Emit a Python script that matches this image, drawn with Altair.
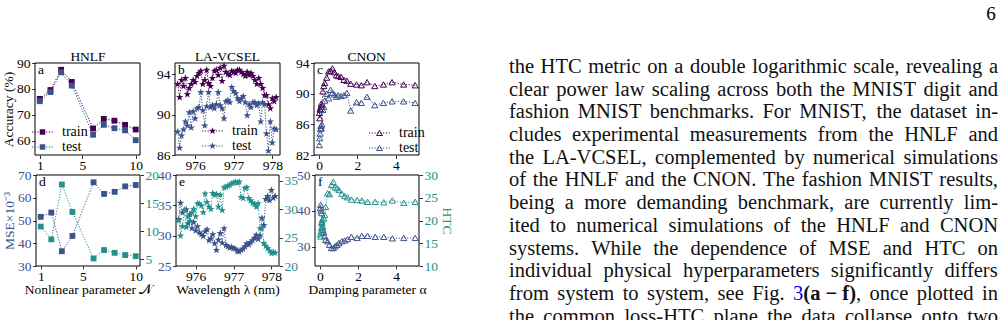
import altair as alt
import pandas as pd

W, H = 1004, 320
PURPLE = "#440154"
BLUE = "#3b528b"
TEAL = "#21918c"
FONT = "Liberation Serif"
LBL = 13.5
STAR = ("M0,-1L0.235,-0.324L0.951,-0.309L0.38,0.124L0.588,0.809L0,0.4"
        "L-0.588,0.809L-0.38,0.124L-0.951,-0.309L-0.235,-0.324Z")

# ---------------- data ----------------
nl_param = [1, 2, 3, 4, 6, 7, 8, 9, 10]
hnlf_train = [76.2, 79.6, 87.4, 82.7, 64.8, 68.5, 67.8, 66.2, 64.4]
hnlf_test = [75.3, 78.8, 86.4, 81.3, 62.4, 66.2, 64.9, 64.1, 60.3]
hnlf_mse = [51.6, 53.5, 36.5, 43.2, 66.8, 61.7, 62.6, 65.0, 65.6]
hnlf_htc = [10.8, 8.5, 18.3, 13.4, 5.1, 6.6, 6.1, 5.7, 5.5]

wavelength = [975.55, 975.60, 975.65, 975.70, 975.75, 975.80, 975.85, 975.90, 975.95, 976.00,
              976.05, 976.10, 976.15, 976.20, 976.25, 976.30, 976.35, 976.40, 976.45, 976.50,
              976.55, 976.60, 976.65, 976.70, 976.75, 976.80, 976.85, 976.90, 976.95, 977.00,
              977.05, 977.10, 977.15, 977.20, 977.25, 977.30, 977.35, 977.40, 977.45, 977.50,
              977.55, 977.60, 977.65, 977.70, 977.75, 977.80, 977.85, 977.90, 977.95, 978.00,
              978.05, 978.10]
vcsel_train = [93.0, 91.7, 93.4, 92.8, 93.6, 92.0, 92.6, 93.0, 93.4, 93.2,
               93.8, 94.1, 94.3, 93.0, 93.4, 94.4, 93.1, 92.8, 93.6, 94.3,
               94.4, 93.9, 94.6, 93.3, 94.8, 94.2, 94.0, 93.9, 94.3, 94.2,
               94.1, 94.4, 94.4, 94.2, 94.0, 93.8, 94.2, 93.9, 94.1, 93.8,
               93.4, 93.0, 93.6, 93.0, 92.6, 91.9, 91.9, 91.0, 90.6, 91.6,
               91.3, 91.7]
vcsel_test = [88.3, 86.7, 87.9, 88.5, 89.3, 88.9, 90.2, 88.7, 90.3, 89.6,
              90.6, 90.7, 92.2, 90.4, 88.9, 90.8, 92.2, 90.7, 90.9, 90.6,
              91.0, 92.2, 90.9, 90.6, 89.6, 91.3, 91.4, 91.2, 92.7, 92.3,
              92.1, 91.6, 91.3, 91.6, 91.8, 91.2, 89.9, 91.0, 90.7, 91.2,
              91.2, 90.9, 91.1, 89.3, 91.2, 91.0, 88.1, 86.4, 89.3, 87.2,
              88.6, 88.5]
vcsel_mse = [32.7, 35.4, 33.8, 34.2, 34.3, 32.0, 33.5, 31.2, 32.2, 30.8,
             31.5, 30.5, 30.2, 29.9, 30.7, 31.0, 29.2, 29.5, 30.2, 28.7,
             27.6, 29.3, 30.4, 28.8, 31.2, 28.4, 28.2, 28.0, 28.1, 27.9,
             27.8, 27.4, 27.4, 27.6, 27.8, 28.2, 28.7, 28.5, 28.9, 29.2,
             29.6, 30.1, 29.4, 30.0, 32.9, 31.7, 36.0, 36.5, 35.8, 37.5,
             36.2, 36.5]
vcsel_htc = [28.0, 25.3, 27.0, 29.8, 26.8, 28.7, 27.9, 29.4, 30.0, 28.7,
             31.0, 30.9, 30.6, 29.4, 32.7, 31.2, 30.4, 30.0, 32.8, 32.5,
             32.6, 30.4, 32.5, 29.8, 33.8, 33.9, 34.1, 34.2, 34.5, 34.6,
             34.8, 34.6, 34.8, 32.1, 31.9, 33.7, 33.8, 31.9, 31.5, 31.1,
             30.9, 30.4, 31.0, 26.6, 26.6, 24.0, 23.5, 23.1, 22.7, 22.2,
             22.4, 22.3]

damping = [0.02, 0.04, 0.06, 0.08, 0.10, 0.12, 0.15, 0.20, 0.25, 0.30,
           0.40, 0.50, 0.60, 0.70, 0.80, 0.90, 1.00, 1.15, 1.30, 1.45,
           1.65, 1.95, 2.20, 2.50, 2.90, 3.35, 3.80, 4.40, 5.00]
cnon_train = [87.5, 86.8, 88.0, 87.9, 88.3, 88.7, 88.5, 90.3, 91.0, 91.4,
              92.1, 92.9, 93.0, 93.3, 92.8, 92.4, 92.3, 92.2, 91.8, 91.7,
              91.3, 91.2, 91.1, 91.5, 91.0, 91.2, 91.5, 91.2, 91.1]
cnon_test = [83.3, 84.2, 84.8, 85.4, 85.8, 85.5, 86.0, 87.9, 88.3, 89.1,
             90.0, 89.4, 90.5, 90.1, 89.9, 89.6, 89.8, 89.7, 89.8, 90.1,
             87.8, 88.9, 88.8, 89.6, 88.5, 88.8, 89.0, 89.0, 88.8]
cnon_mse = [40.8, 41.7, 40.1, 39.4, 36.6, 35.7, 34.8, 34.1, 33.0, 32.0,
            31.6, 30.6, 29.7, 29.7, 30.2, 30.6, 31.1, 31.6, 31.8, 32.2,
            32.8, 32.5, 33.1, 33.1, 32.8, 32.8, 32.4, 32.5, 32.5]
cnon_htc = [17.0, 16.5, 17.6, 18.3, 19.7, 20.2, 18.6, 20.5, 21.2, 23.0,
            26.0, 25.8, 27.8, 28.5, 27.3, 27.1, 26.7, 25.9, 25.4, 25.1,
            24.6, 24.5, 24.4, 24.1, 24.1, 24.0, 24.4, 23.9, 24.1]

series_names = ["train", "test"]
panel_titles = ["HNLF", "LA-VCSEL", "CNON"]
panel_letters = ["a", "b", "c", "d", "e", "f"]
x_titles = ["Nonlinear parameter 𝒩", "Wavelength λ (nm)", "Damping parameter α"]
acc_title = "Accuracy (%)"
mse_title = "MSE×10⁻³"
htc_title = "HTC"

text_lines = [
    "the HTC metric on a double logarithmic scale, revealing a",
    "clear power law scaling across both the MNIST digit and",
    "fashion MNIST benchmarks. For MNIST, the dataset in-",
    "cludes experimental measurements from the HNLF and",
    "the LA-VCSEL, complemented by numerical simulations",
    "of the HNLF and the CNON. The fashion MNIST results,",
    "being a more demanding benchmark, are currently lim-",
    "ited to numerical simulations of the HNLF and CNON",
    "systems. While the dependence of MSE and HTC on",
    "individual physical hyperparameters significantly differs",
    "from system to system, see Fig. {3}[(a − f)], once plotted in",
    "the common loss-HTC plane the data collapse onto two",
]
page_number = "6"

# ---------------- text layout (justified column, Times metrics) ----------------
TIMES = {" ": 250, ",": 250, ".": 250, "-": 333, "(": 333, ")": 333, "−": 564, ":": 278}
TIMES.update({c: 500 for c in "0123456789"})
TIMES.update(dict(zip("abcdefghijklmnopqrstuvwxyz",
                      [444, 500, 444, 500, 444, 333, 500, 500, 278, 278, 500, 278, 778,
                       500, 500, 500, 500, 333, 389, 278, 500, 500, 722, 500, 500, 444])))
TIMES.update(dict(zip("ABCDEFGHIJKLMNOPQRSTUVWXYZ",
                      [722, 667, 667, 722, 611, 556, 722, 722, 333, 389, 722, 611, 889,
                       722, 722, 556, 722, 667, 556, 611, 722, 722, 944, 722, 722, 611])))
BOLD = {"(": 333, ")": 333, "a": 500, "f": 333, " ": 250, "−": 570}
COL_X0, COL_W = 509, 489


def segments(word):
    segs, cur, style = [], "", "n"
    for ch in word:
        if ch in "{[":
            if cur:
                segs.append((cur, style))
            cur, style = "", ("blue" if ch == "{" else "bold")
        elif ch in "}]":
            segs.append((cur, style))
            cur, style = "", "n"
        else:
            cur += ch
    if cur:
        segs.append((cur, style))
    return segs


def seg_width(txt, style):
    tab = BOLD if style == "bold" else TIMES
    return sum(tab.get(c, TIMES.get(c, 500)) for c in txt)


def tokenize(line):
    words, cur, depth = [], "", 0
    for ch in line:
        if ch == "[":
            depth += 1
        if ch == "]":
            depth -= 1
        if ch == " " and depth == 0:
            words.append(cur)
            cur = ""
        else:
            cur += ch
    words.append(cur)
    return words


line_words = [[segments(w) for w in tokenize(ln)] for ln in text_lines]
max_em = max(sum(seg_width(t, s) for w in lw for t, s in w) + 250 * (len(lw) - 1)
             for lw in line_words) / 1000.0
FS = min(20.5, (COL_W - 6) / max_em)

rows = []
for r, lw in enumerate(line_words):
    widths = [sum(seg_width(t, s) for t, s in w) * FS / 1000.0 for w in lw]
    gap = (COL_W - sum(widths)) / (len(lw) - 1)
    x = COL_X0
    for w, wd in zip(lw, widths):
        xx = x
        for t, s in w:
            rows.append({"t": t, "style": s, "x": xx, "row": r})
            xx += seg_width(t, s) * FS / 1000.0
        x += wd + gap
text_df = pd.DataFrame(rows)


# ---------------- helpers ----------------
def axis(orient, offset, values, title=None, color="black", fmt=None, pad=2, lpad=1.5, tick=3.5):
    kw = dict(orient=orient, offset=offset, values=values, grid=False, domain=False,
              ticks=True, tickSize=tick, tickColor="black", tickWidth=0.8,
              labelFont=FONT, labelFontSize=LBL, labelColor=color, labelPadding=lpad,
              labelFlush=False, labelOverlap=False,
              titleFont=FONT, titleFontSize=13.5, titleFontWeight="normal",
              titleColor=color, titlePadding=pad, title=title)
    if fmt:
        kw["format"] = fmt
    return alt.Axis(**kw)


def lin(dom, rng):
    return alt.Scale(domain=dom, range=rng, nice=False, zero=False)


def frame(sx, sy, ax, ay, xdom, ydom):
    fdf = pd.DataFrame({"x0": [xdom[0]], "x1": [xdom[1]], "y0": [ydom[0]], "y1": [ydom[1]]})
    return alt.Chart(fdf).mark_rect(fillOpacity=0, stroke="black", strokeWidth=1).encode(
        x=alt.X("x0:Q", scale=sx, axis=ax), x2="x1:Q",
        y=alt.Y("y0:Q", scale=sy, axis=ay), y2="y1:Q")


def acc_panel(xv, train, test, xdom, xr, ydom, yr, xticks, yticks, shape, filled,
              size, ytitle=None, xfmt=None):
    n = len(xv)
    df = pd.DataFrame({"x": list(xv) * 2, "v": list(train) + list(test),
                       "s": [series_names[0]] * n + [series_names[1]] * n})
    sx, sy = lin(xdom, xr), lin(ydom, yr)
    ax = axis("bottom", yr[0] - H, xticks, None, fmt=xfmt, lpad=0)
    ay = axis("left", -xr[0], yticks, ytitle, pad=1)
    col = alt.Color("s:N", scale=alt.Scale(domain=series_names, range=[PURPLE, BLUE]), legend=None)
    base = alt.Chart(df).encode(x=alt.X("x:Q", scale=sx, axis=ax),
                                y=alt.Y("v:Q", scale=sy, axis=ay), color=col, detail="s:N")
    line = base.mark_line(strokeDash=[1.2, 1.6], strokeWidth=1)
    pts = base.mark_point(shape=shape, filled=filled, size=size, opacity=1, strokeWidth=1)
    return alt.layer(line, pts, frame(sx, sy, ax, ay, xdom, ydom))


def dual_panel(xv, mse, htc, xdom, xr, ldom, rdom, yr, xticks, lticks, rticks, shape,
               filled, size, xtitle, ltitle=None, rtitle=None, xfmt=None):
    df = pd.DataFrame({"x": xv, "mse": mse, "htc": htc})
    sx = lin(xdom, xr)
    syl, syr = lin(ldom, yr), lin(rdom, yr)
    ax = axis("bottom", yr[0] - H, xticks, xtitle, fmt=xfmt, pad=0, lpad=0, tick=3)
    ayl = axis("left", -xr[0], lticks, ltitle, color=BLUE, pad=1)
    ayr = axis("right", xr[1] - W, rticks, rtitle, color=TEAL, pad=2)
    X = alt.X("x:Q", scale=sx, axis=ax)
    left = alt.Chart(df).encode(x=X, y=alt.Y("mse:Q", scale=syl, axis=ayl))
    right = alt.Chart(df).encode(x=X, y=alt.Y("htc:Q", scale=syr, axis=ayr))
    lpart = alt.layer(
        left.mark_line(color=BLUE, strokeDash=[1.2, 1.6], strokeWidth=1),
        left.mark_point(color=BLUE, shape=shape, filled=filled, size=size, opacity=1, strokeWidth=1),
        frame(sx, syl, ax, ayl, xdom, ldom))
    rpart = alt.layer(
        right.mark_line(color=TEAL, strokeDash=[1.2, 1.6], strokeWidth=1),
        right.mark_point(color=TEAL, shape=shape, filled=filled, size=size, opacity=1, strokeWidth=1))
    return alt.layer(lpart, rpart).resolve_scale(y="independent")


def label(text, x, y, size=13.5, align="center", color="black", weight="normal"):
    return alt.Chart(pd.DataFrame({"k": [0]})).mark_text(
        font=FONT, fontSize=size, align=align, baseline="middle", color=color,
        fontWeight=weight).encode(
        x=alt.value(x), y=alt.value(y), text=alt.value(text))


def legend(x0, ycen, shape, filled, size):
    ldf = pd.DataFrame({"s": series_names, "row": [0, 1]})
    y = alt.Y("row:Q", scale=lin([0, 1], [ycen, ycen + 15]), axis=None)
    col = alt.Color("s:N", scale=alt.Scale(domain=series_names, range=[PURPLE, BLUE]), legend=None)
    rule = alt.Chart(ldf).mark_rule(strokeDash=[1.2, 1.6], strokeWidth=1).encode(
        x=alt.value(x0), x2=alt.value(x0 + 21), y=y, color=col)
    pt = alt.Chart(ldf).mark_point(shape=shape, filled=filled, size=size, opacity=1, strokeWidth=1).encode(
        x=alt.value(x0 + 10.5), y=y, color=col)
    tx = alt.Chart(ldf).mark_text(font=FONT, fontSize=14, align="left", baseline="middle").encode(
        x=alt.value(x0 + 30), y=y, text="s:N")
    return alt.layer(rule, pt, tx)


# ---------------- panels ----------------
pa = acc_panel(nl_param, hnlf_train, hnlf_test, [0.55, 10.4], [35, 140], [54.6, 90], [155, 63],
               [1, 5, 10], [60, 70, 80, 90], "square", True, 34, ytitle=acc_title)
pb = acc_panel(wavelength, vcsel_train, vcsel_test, [975.48, 978.2], [175, 280], [86, 95.1], [155, 63],
               [976, 977, 978], [86, 90, 94], STAR, True, 60, xfmt="d")
pc = acc_panel(damping, cnon_train, cnon_test, [-0.26, 5.2], [314, 419], [82, 94], [155, 63],
               [0, 2, 4], [82, 86, 90, 94], "triangle-up", False, 38)
pd_ = dual_panel(nl_param, hnlf_mse, hnlf_htc, [0.55, 10.4], [36, 140], [30, 70], [3.75, 20], [266, 175],
                 [1, 5, 10], [30, 40, 50, 60, 70], [5, 10, 15, 20], "square", True, 34,
                 x_titles[0], ltitle=mse_title)
pe = dual_panel(wavelength, vcsel_mse, vcsel_htc, [975.48, 978.2], [176, 279], [25, 40], [20, 36], [266, 175],
                [976, 977, 978], [25, 30, 35, 40], [20, 25, 30, 35], STAR, True, 60,
                x_titles[1], xfmt="d")
pf = dual_panel(damping, cnon_mse, cnon_htc, [-0.26, 5.2], [315, 419], [24.7, 50], [10, 30], [266, 175],
                [0, 2, 4], [30, 40, 50], [10, 15, 20, 25, 30], "triangle-up", False, 38,
                x_titles[2], rtitle=htc_title)

decor = [
    label(panel_titles[0], 88, 57), label(panel_titles[1], 227.5, 57), label(panel_titles[2], 366.5, 57),
    label(panel_letters[0], 38, 70, align="left"), label(panel_letters[1], 178, 70, align="left"),
    label(panel_letters[2], 317, 70, align="left"), label(panel_letters[3], 39, 182, align="left"),
    label(panel_letters[4], 179, 182, align="left"), label(panel_letters[5], 318, 182, align="left"),
    legend(32, 132, "square", True, 30), legend(202, 131, STAR, True, 55),
    legend(369, 133, "triangle-up", False, 34),
    label(page_number, 991, 14, size=19),
]

# paragraph text (one layer per style)
TX = alt.X("x:Q", scale=lin([0, W], [0, W]), axis=None)
TY = alt.Y("row:Q", scale=lin([0, 11], [67, 316.6]), axis=None)
para = []
for style, color, weight in [("n", "#111111", "normal"), ("blue", "#0000ee", "normal"),
                             ("bold", "#111111", "bold")]:
    sub = text_df[text_df["style"] == style]
    para.append(alt.Chart(sub).mark_text(font=FONT, fontSize=FS, align="left", baseline="middle",
                                         color=color, fontWeight=weight).encode(x=TX, y=TY, text="t:N"))

chart = alt.layer(pa, pb, pc, pd_, pe, pf, *decor, *para).resolve_scale(
    x="independent", y="independent", color="independent"
).properties(width=W, height=H, padding=0, autosize="none", background="white"
).configure_view(stroke=None)

chart.save("out.html", embed_options={"renderer": "svg", "actions": False})
